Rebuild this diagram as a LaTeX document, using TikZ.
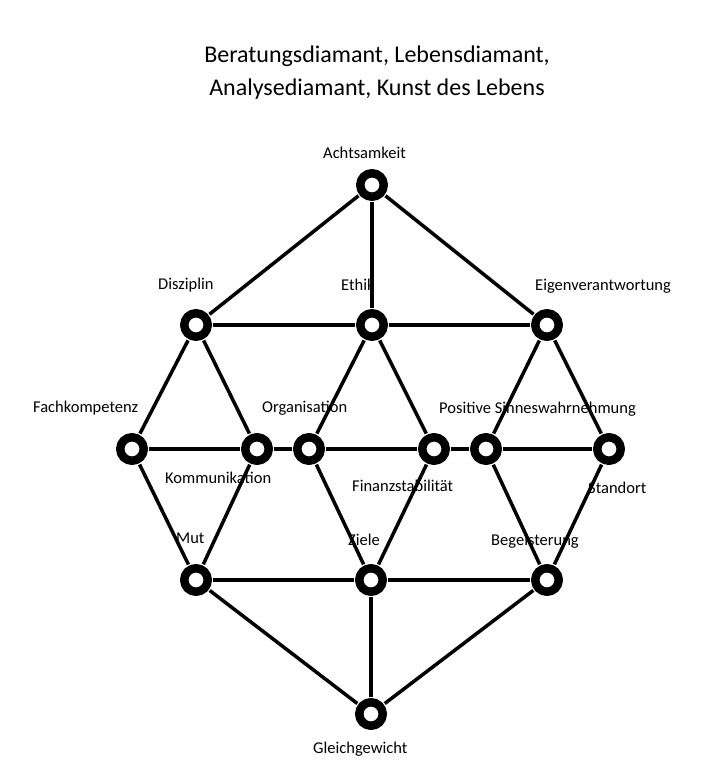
\documentclass[tikz,border=0pt]{standalone}
\usepackage{fontspec}
\setmainfont{Carlito}
\tikzset{
  ring/.style={circle,draw=black,line width=8.5bp,minimum size=23.5bp,inner sep=0pt,outer sep=5.5bp,fill=white},
  lab/.style={anchor=west,inner sep=0pt,font=\fontsize{16.5bp}{19bp}\selectfont},
  edge/.style={black,line width=3.5bp},
}
\begin{document}
\begin{tikzpicture}[line join=bevel,]
\useasboundingbox (0bp,0bp) rectangle (721bp,781bp);
%%
\node (title) at (377bp,708bp) [align=center,font=\fontsize{24bp}{33bp}\selectfont] {Beratungsdiamant, Lebensdiamant,\\Analysediamant, Kunst des Lebens};
%% labels (under the lines)
\node (lab_achtsamkeit) at (323bp,628bp) [lab] {Achtsamkeit};
  \node (lab_disziplin) at (158bp,496bp) [lab] {Disziplin};
  \node (lab_ethik) at (341bp,496bp) [lab] {Ethik};
  \node (lab_eigen) at (535bp,495bp) [lab] {Eigenverantwortung};
  \node (lab_fach) at (33bp,373bp) [lab] {Fachkompetenz};
  \node (lab_orga) at (262bp,373bp) [lab] {Organisation};
  \node (lab_positiv) at (439bp,372bp) [lab] {Positive Sinneswahrnehmung};
  \node (lab_kommu) at (165bp,303bp) [lab] {Kommunikation};
  \node (lab_finanz) at (352bp,295bp) [lab] {Finanzstabilität};
  \node (lab_standort) at (588bp,293bp) [lab] {Standort};
  \node (lab_mut) at (176bp,243bp) [lab] {Mut};
  \node (lab_ziele) at (348bp,241bp) [lab] {Ziele};
  \node (lab_begeist) at (491bp,240bp) [lab] {Begeisterung};
  \node (lab_gleich) at (313bp,32bp) [lab] {Gleichgewicht};
%% rings
\node (node_achtsamkeit) at (372bp,596bp) [ring] {};
  \node (node_disziplin) at (196bp,456bp) [ring] {};
  \node (node_ethik) at (372bp,456bp) [ring] {};
  \node (node_eigen) at (547bp,456bp) [ring] {};
  \node (node_fach) at (132bp,332bp) [ring] {};
  \node (node_kommu) at (257bp,332bp) [ring] {};
  \node (node_orga) at (309bp,332bp) [ring] {};
  \node (node_finanz) at (434bp,332bp) [ring] {};
  \node (node_positiv) at (486bp,332bp) [ring] {};
  \node (node_standort) at (609bp,332bp) [ring] {};
  \node (node_mut) at (196bp,201bp) [ring] {};
  \node (node_ziele) at (371bp,201bp) [ring] {};
  \node (node_begeist) at (547bp,201bp) [ring] {};
  \node (node_gleich) at (371bp,67bp) [ring] {};
%% lines
\draw [edge] (node_achtsamkeit) -- (node_disziplin);
  \draw [edge] (node_achtsamkeit) -- (node_ethik);
  \draw [edge] (node_achtsamkeit) -- (node_eigen);
  \draw [edge] (node_disziplin) -- (node_ethik);
  \draw [edge] (node_ethik) -- (node_eigen);
  \draw [edge] (node_disziplin) -- (node_fach);
  \draw [edge] (node_disziplin) -- (node_kommu);
  \draw [edge] (node_ethik) -- (node_orga);
  \draw [edge] (node_ethik) -- (node_finanz);
  \draw [edge] (node_eigen) -- (node_positiv);
  \draw [edge] (node_eigen) -- (node_standort);
  \draw [edge] (node_fach) -- (node_kommu);
  \draw [edge] (node_kommu) -- (node_orga);
  \draw [edge] (node_orga) -- (node_finanz);
  \draw [edge] (node_finanz) -- (node_positiv);
  \draw [edge] (node_positiv) -- (node_standort);
  \draw [edge] (node_fach) -- (node_mut);
  \draw [edge] (node_kommu) -- (node_mut);
  \draw [edge] (node_orga) -- (node_ziele);
  \draw [edge] (node_finanz) -- (node_ziele);
  \draw [edge] (node_positiv) -- (node_begeist);
  \draw [edge] (node_standort) -- (node_begeist);
  \draw [edge] (node_mut) -- (node_ziele);
  \draw [edge] (node_ziele) -- (node_begeist);
  \draw [edge] (node_mut) -- (node_gleich);
  \draw [edge] (node_ziele) -- (node_gleich);
  \draw [edge] (node_begeist) -- (node_gleich);
%
\end{tikzpicture}
\end{document}
